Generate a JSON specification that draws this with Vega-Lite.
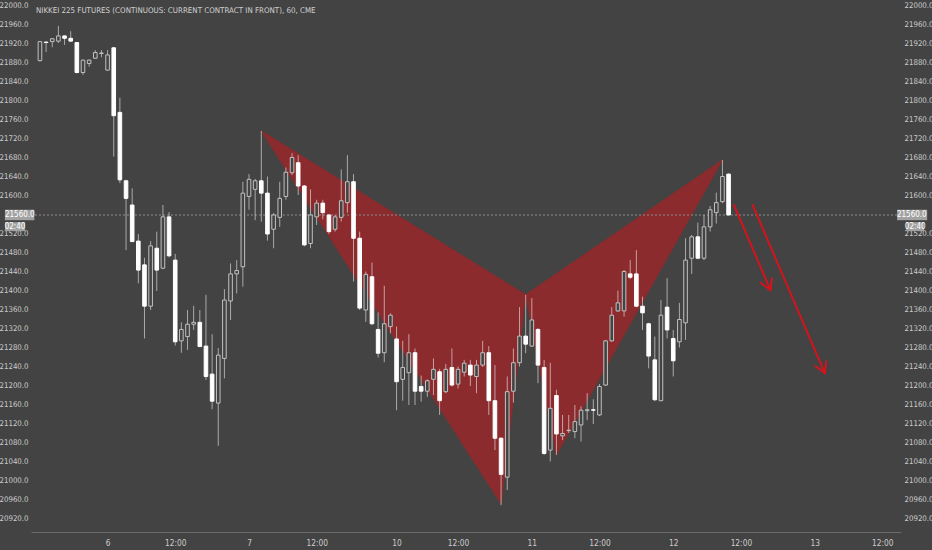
{
  "$schema": "https://vega.github.io/schema/vega-lite/v6.json",
  "background": "#434343",
  "autosize": "none",
  "width": 870,
  "height": 532,
  "padding": {"left": 31, "top": 0, "right": 31, "bottom": 18},
  "title": {
    "text": "NIKKEI 225 FUTURES (CONTINUOUS: CURRENT CONTRACT IN FRONT), 60, CME",
    "anchor": "start",
    "frame": "group",
    "offset": -15,
    "dx": 5,
    "fontSize": 7.9,
    "fontWeight": "normal",
    "font": "DejaVu Sans Condensed, sans-serif",
    "color": "#d2d2d2"
  },
  "datasets": {
    "candles": [
      {"i": 0, "o": 21885, "h": 21926, "l": 21883, "c": 21925},
      {"i": 1, "o": 21924, "h": 21925, "l": 21903, "c": 21923},
      {"i": 2, "o": 21925, "h": 21932, "l": 21913, "c": 21931},
      {"i": 3, "o": 21926, "h": 21958, "l": 21922, "c": 21937},
      {"i": 4, "o": 21937, "h": 21938, "l": 21918, "c": 21932},
      {"i": 5, "o": 21932, "h": 21947, "l": 21925, "c": 21926},
      {"i": 6, "o": 21923, "h": 21924, "l": 21858, "c": 21860},
      {"i": 7, "o": 21860, "h": 21887, "l": 21855, "c": 21886},
      {"i": 8, "o": 21879, "h": 21887, "l": 21872, "c": 21886},
      {"i": 9, "o": 21890, "h": 21907, "l": 21889, "c": 21902},
      {"i": 10, "o": 21900, "h": 21907, "l": 21892, "c": 21901},
      {"i": 11, "o": 21865, "h": 21907, "l": 21864, "c": 21897},
      {"i": 12, "o": 21912, "h": 21913, "l": 21683, "c": 21769},
      {"i": 13, "o": 21776, "h": 21807, "l": 21627, "c": 21634},
      {"i": 14, "o": 21632, "h": 21634, "l": 21486, "c": 21595},
      {"i": 15, "o": 21581, "h": 21616, "l": 21503, "c": 21504},
      {"i": 16, "o": 21505, "h": 21520, "l": 21416, "c": 21444},
      {"i": 17, "o": 21455, "h": 21470, "l": 21300, "c": 21368},
      {"i": 18, "o": 21368, "h": 21505, "l": 21360, "c": 21495},
      {"i": 19, "o": 21490, "h": 21525, "l": 21400, "c": 21444},
      {"i": 20, "o": 21448, "h": 21581, "l": 21446, "c": 21556},
      {"i": 21, "o": 21556, "h": 21566, "l": 21471, "c": 21474},
      {"i": 22, "o": 21465, "h": 21478, "l": 21285, "c": 21293},
      {"i": 23, "o": 21295, "h": 21334, "l": 21270, "c": 21319},
      {"i": 24, "o": 21304, "h": 21360, "l": 21276, "c": 21330},
      {"i": 25, "o": 21330, "h": 21369, "l": 21318, "c": 21334},
      {"i": 26, "o": 21334, "h": 21360, "l": 21282, "c": 21283},
      {"i": 27, "o": 21284, "h": 21392, "l": 21213, "c": 21220},
      {"i": 28, "o": 21225, "h": 21309, "l": 21151, "c": 21168},
      {"i": 29, "o": 21164, "h": 21280, "l": 21074, "c": 21265},
      {"i": 30, "o": 21258, "h": 21404, "l": 21216, "c": 21381},
      {"i": 31, "o": 21379, "h": 21458, "l": 21339, "c": 21436},
      {"i": 32, "o": 21436, "h": 21465, "l": 21395, "c": 21443},
      {"i": 33, "o": 21451, "h": 21630, "l": 21409, "c": 21606},
      {"i": 34, "o": 21599, "h": 21646, "l": 21571, "c": 21635},
      {"i": 35, "o": 21614, "h": 21636, "l": 21549, "c": 21632},
      {"i": 36, "o": 21632, "h": 21737, "l": 21546, "c": 21606},
      {"i": 37, "o": 21606, "h": 21641, "l": 21506, "c": 21520},
      {"i": 38, "o": 21530, "h": 21564, "l": 21490, "c": 21560},
      {"i": 39, "o": 21555, "h": 21630, "l": 21535, "c": 21595},
      {"i": 40, "o": 21599, "h": 21660, "l": 21592, "c": 21650},
      {"i": 41, "o": 21649, "h": 21690, "l": 21644, "c": 21681},
      {"i": 42, "o": 21670, "h": 21686, "l": 21602, "c": 21621},
      {"i": 43, "o": 21621, "h": 21623, "l": 21494, "c": 21497},
      {"i": 44, "o": 21500, "h": 21614, "l": 21490, "c": 21560},
      {"i": 45, "o": 21556, "h": 21592, "l": 21539, "c": 21585},
      {"i": 46, "o": 21585, "h": 21592, "l": 21551, "c": 21565},
      {"i": 47, "o": 21560, "h": 21562, "l": 21520, "c": 21525},
      {"i": 48, "o": 21530, "h": 21560, "l": 21525, "c": 21556},
      {"i": 49, "o": 21555, "h": 21656, "l": 21546, "c": 21590},
      {"i": 50, "o": 21586, "h": 21686, "l": 21565, "c": 21630},
      {"i": 51, "o": 21630, "h": 21646, "l": 21420, "c": 21511},
      {"i": 52, "o": 21511, "h": 21525, "l": 21360, "c": 21364},
      {"i": 53, "o": 21360, "h": 21441, "l": 21335, "c": 21435},
      {"i": 54, "o": 21430, "h": 21460, "l": 21328, "c": 21331},
      {"i": 55, "o": 21319, "h": 21355, "l": 21260, "c": 21269},
      {"i": 56, "o": 21270, "h": 21411, "l": 21250, "c": 21331},
      {"i": 57, "o": 21325, "h": 21353, "l": 21311, "c": 21349},
      {"i": 58, "o": 21299, "h": 21325, "l": 21149, "c": 21209},
      {"i": 59, "o": 21214, "h": 21295, "l": 21169, "c": 21239},
      {"i": 60, "o": 21228, "h": 21309, "l": 21160, "c": 21270},
      {"i": 61, "o": 21270, "h": 21279, "l": 21160, "c": 21189},
      {"i": 62, "o": 21199, "h": 21222, "l": 21167, "c": 21189},
      {"i": 63, "o": 21189, "h": 21214, "l": 21177, "c": 21211},
      {"i": 64, "o": 21214, "h": 21258, "l": 21181, "c": 21235},
      {"i": 65, "o": 21230, "h": 21236, "l": 21139, "c": 21169},
      {"i": 66, "o": 21188, "h": 21246, "l": 21185, "c": 21235},
      {"i": 67, "o": 21239, "h": 21279, "l": 21199, "c": 21202},
      {"i": 68, "o": 21204, "h": 21241, "l": 21195, "c": 21235},
      {"i": 69, "o": 21229, "h": 21255, "l": 21220, "c": 21248},
      {"i": 70, "o": 21244, "h": 21255, "l": 21200, "c": 21223},
      {"i": 71, "o": 21220, "h": 21255, "l": 21185, "c": 21244},
      {"i": 72, "o": 21244, "h": 21295, "l": 21240, "c": 21270},
      {"i": 73, "o": 21270, "h": 21284, "l": 21139, "c": 21169},
      {"i": 74, "o": 21169, "h": 21244, "l": 21065, "c": 21090},
      {"i": 75, "o": 21090, "h": 21092, "l": 20949, "c": 21014},
      {"i": 76, "o": 21008, "h": 21220, "l": 20981, "c": 21188},
      {"i": 77, "o": 21189, "h": 21279, "l": 21165, "c": 21249},
      {"i": 78, "o": 21249, "h": 21366, "l": 21241, "c": 21305},
      {"i": 79, "o": 21305, "h": 21392, "l": 21269, "c": 21288},
      {"i": 80, "o": 21284, "h": 21385, "l": 21282, "c": 21339},
      {"i": 81, "o": 21319, "h": 21322, "l": 21206, "c": 21244},
      {"i": 82, "o": 21239, "h": 21255, "l": 21055, "c": 21058},
      {"i": 83, "o": 21065, "h": 21249, "l": 21041, "c": 21153},
      {"i": 84, "o": 21180, "h": 21192, "l": 21055, "c": 21099},
      {"i": 85, "o": 21095, "h": 21139, "l": 21086, "c": 21100},
      {"i": 86, "o": 21106, "h": 21139, "l": 21101, "c": 21107},
      {"i": 87, "o": 21104, "h": 21160, "l": 21090, "c": 21125},
      {"i": 88, "o": 21118, "h": 21157, "l": 21083, "c": 21149},
      {"i": 89, "o": 21148, "h": 21185, "l": 21128, "c": 21150},
      {"i": 90, "o": 21150, "h": 21172, "l": 21120, "c": 21149},
      {"i": 91, "o": 21139, "h": 21204, "l": 21137, "c": 21199},
      {"i": 92, "o": 21202, "h": 21297, "l": 21200, "c": 21295},
      {"i": 93, "o": 21295, "h": 21366, "l": 21293, "c": 21349},
      {"i": 94, "o": 21358, "h": 21401, "l": 21356, "c": 21375},
      {"i": 95, "o": 21358, "h": 21444, "l": 21346, "c": 21441},
      {"i": 96, "o": 21436, "h": 21465, "l": 21425, "c": 21429},
      {"i": 97, "o": 21436, "h": 21486, "l": 21366, "c": 21368},
      {"i": 98, "o": 21368, "h": 21388, "l": 21318, "c": 21354},
      {"i": 99, "o": 21331, "h": 21333, "l": 21237, "c": 21263},
      {"i": 100, "o": 21255, "h": 21304, "l": 21168, "c": 21171},
      {"i": 101, "o": 21169, "h": 21381, "l": 21168, "c": 21349},
      {"i": 102, "o": 21366, "h": 21427, "l": 21300, "c": 21318},
      {"i": 103, "o": 21300, "h": 21318, "l": 21220, "c": 21253},
      {"i": 104, "o": 21293, "h": 21375, "l": 21281, "c": 21340},
      {"i": 105, "o": 21333, "h": 21511, "l": 21297, "c": 21465},
      {"i": 106, "o": 21469, "h": 21518, "l": 21436, "c": 21514},
      {"i": 107, "o": 21514, "h": 21544, "l": 21467, "c": 21469},
      {"i": 108, "o": 21469, "h": 21560, "l": 21465, "c": 21535},
      {"i": 109, "o": 21535, "h": 21579, "l": 21525, "c": 21571},
      {"i": 110, "o": 21565, "h": 21607, "l": 21542, "c": 21586},
      {"i": 111, "o": 21588, "h": 21676, "l": 21585, "c": 21641},
      {"i": 112, "o": 21646, "h": 21648, "l": 21560, "c": 21560}
    ],
    "pattern": [
      {"leg": "XAB", "ord": 0, "i": 36, "p": 21737},
      {"leg": "XAB", "ord": 1, "i": 75, "p": 20952},
      {"leg": "XAB", "ord": 2, "i": 79, "p": 21392},
      {"leg": "BCD", "ord": 0, "i": 79, "p": 21392},
      {"leg": "BCD", "ord": 1, "i": 84, "p": 21055},
      {"leg": "BCD", "ord": 2, "i": 111, "p": 21676}
    ],
    "arrows": [
      {"seg": "a1", "ord": 0, "i": 112.86, "p": 21581},
      {"seg": "a1", "ord": 1, "i": 118.81, "p": 21402},
      {"seg": "h1", "ord": 0, "i": 117.27, "p": 21417},
      {"seg": "h1", "ord": 1, "i": 118.81, "p": 21402},
      {"seg": "h1", "ord": 2, "i": 119.04, "p": 21427},
      {"seg": "a2", "ord": 0, "i": 115.92, "p": 21581},
      {"seg": "a2", "ord": 1, "i": 127.65, "p": 21227},
      {"seg": "h2", "ord": 0, "i": 126.11, "p": 21242},
      {"seg": "h2", "ord": 1, "i": 127.65, "p": 21227},
      {"seg": "h2", "ord": 2, "i": 127.88, "p": 21252}
    ]
  },
  "layer": [
    {
      "data": {"name": "pattern"},
      "mark": {"type": "line", "interpolate": "linear-closed", "fill": "#8b2b2e", "stroke": "#8b2b2e", "strokeWidth": 1},
      "encoding": {
        "x": {
          "field": "i", "type": "quantitative",
          "scale": {"domain": [-0.643, 139.23], "nice": false, "zero": false},
          "axis": {
            "orient": "bottom", "title": null, "domain": true, "domainColor": "#6a6a6a",
            "values": [11, 22, 34, 45, 58, 68, 80, 91, 103, 114, 126, 137],
            "labelExpr": "datum.value == 11 ? '6' : datum.value == 34 ? '7' : datum.value == 58 ? '10' : datum.value == 80 ? '11' : datum.value == 103 ? '12' : datum.value == 126 ? '13' : '12:00'",
            "labelPadding": 6,
            "labelFontSize": 8.3
          }
        },
        "y": {
          "field": "p", "type": "quantitative",
          "scale": {"domain": [20892.6, 22012.6], "nice": false, "zero": false},
          "axis": {
            "orient": "left", "title": null, "format": ".1f",
            "values": [20920, 20960, 21000, 21040, 21080, 21120, 21160, 21200, 21240, 21280, 21320, 21360, 21400, 21440, 21480, 21520, 21560, 21600, 21640, 21680, 21720, 21760, 21800, 21840, 21880, 21920, 21960, 22000],
            "labelExpr": "datum.value == 21560 ? '' : datum.label",
            "labelPadding": 3
          }
        },
        "detail": {"field": "leg"},
        "order": {"field": "ord"}
      }
    },
    {
      "data": {"values": [{"last": 21560}]},
      "mark": {"type": "rule", "color": "#8e8e8e", "strokeWidth": 1, "strokeDash": [2, 2]},
      "encoding": {
        "y": {
          "field": "last", "type": "quantitative",
          "axis": {
            "orient": "right", "title": null, "format": ".1f",
            "values": [20920, 20960, 21000, 21040, 21080, 21120, 21160, 21200, 21240, 21280, 21320, 21360, 21400, 21440, 21480, 21520, 21560, 21600, 21640, 21680, 21720, 21760, 21800, 21840, 21880, 21920, 21960, 22000],
            "labelExpr": "datum.value == 21560 ? '' : datum.label",
            "labelPadding": 3
          }
        }
      }
    },
    {
      "data": {"name": "candles"},
      "mark": {"type": "rule", "color": "#ffffff", "opacity": 0.55, "strokeWidth": 1},
      "encoding": {
        "x": {"field": "i", "type": "quantitative"},
        "y": {"field": "l", "type": "quantitative", "axis": null},
        "y2": {"field": "h"}
      }
    },
    {
      "data": {"name": "candles"},
      "mark": {"type": "bar", "size": 3.6, "strokeWidth": 1},
      "encoding": {
        "x": {"field": "i", "type": "quantitative"},
        "y": {"field": "o", "type": "quantitative", "axis": null},
        "y2": {"field": "c"},
        "fill": {"condition": {"test": "datum.c >= datum.o", "value": "#434343"}, "value": "#ffffff"},
        "stroke": {"condition": {"test": "datum.c >= datum.o", "value": "#c2c2c2"}, "value": "#ffffff"}
      }
    },
    {
      "data": {"name": "arrows"},
      "mark": {"type": "line", "color": "#d4141c", "strokeWidth": 2, "strokeCap": "round"},
      "encoding": {
        "x": {"field": "i", "type": "quantitative"},
        "y": {"field": "p", "type": "quantitative", "axis": null},
        "detail": {"field": "seg"},
        "order": {"field": "ord"}
      }
    },
    {
      "data": {"values": [{"t": "21560.0"}]},
      "layer": [
        {
          "mark": {"type": "rect", "color": "#a2a2a2"},
          "encoding": {
            "x": {"datum": 139.4, "type": "quantitative"}, "x2": {"datum": 144.3},
            "y": {"datum": 21549, "type": "quantitative", "axis": null}, "y2": {"datum": 21571}
          }
        },
        {
          "mark": {"type": "rect", "color": "#a2a2a2"},
          "encoding": {
            "x": {"datum": -5.7, "type": "quantitative"}, "x2": {"datum": -0.91},
            "y": {"datum": 21549, "type": "quantitative", "axis": null}, "y2": {"datum": 21571}
          }
        },
        {
          "mark": {"type": "text", "color": "#ffffff", "fontSize": 8, "font": "DejaVu Sans Condensed, sans-serif"},
          "encoding": {
            "x": {"datum": 141.8, "type": "quantitative"},
            "y": {"datum": 21560, "type": "quantitative", "axis": null},
            "text": {"field": "t"}
          }
        },
        {
          "mark": {"type": "text", "color": "#ffffff", "fontSize": 8, "font": "DejaVu Sans Condensed, sans-serif"},
          "encoding": {
            "x": {"datum": -3.28, "type": "quantitative"},
            "y": {"datum": 21560, "type": "quantitative", "axis": null},
            "text": {"field": "t"}
          }
        }
      ],
      "resolve": {"axis": {"y": "independent"}}
    },
    {
      "data": {"values": [{"t": "02:40"}]},
      "layer": [
        {
          "mark": {"type": "rect", "color": "#a2a2a2"},
          "encoding": {
            "x": {"datum": 140.9, "type": "quantitative"}, "x2": {"datum": 143.8},
            "y": {"datum": 21526, "type": "quantitative", "axis": null}, "y2": {"datum": 21545}
          }
        },
        {
          "mark": {"type": "rect", "color": "#a2a2a2"},
          "encoding": {
            "x": {"datum": -5.7, "type": "quantitative"}, "x2": {"datum": -2.41},
            "y": {"datum": 21526, "type": "quantitative", "axis": null}, "y2": {"datum": 21545}
          }
        },
        {
          "mark": {"type": "text", "color": "#ffffff", "fontSize": 8, "font": "DejaVu Sans Condensed, sans-serif"},
          "encoding": {
            "x": {"datum": 142.35, "type": "quantitative"},
            "y": {"datum": 21535.5, "type": "quantitative", "axis": null},
            "text": {"field": "t"}
          }
        },
        {
          "mark": {"type": "text", "color": "#ffffff", "fontSize": 8, "font": "DejaVu Sans Condensed, sans-serif"},
          "encoding": {
            "x": {"datum": -4.05, "type": "quantitative"},
            "y": {"datum": 21535.5, "type": "quantitative", "axis": null},
            "text": {"field": "t"}
          }
        }
      ],
      "resolve": {"axis": {"y": "independent"}}
    }
  ],
  "resolve": {"scale": {"y": "shared", "x": "shared"}, "axis": {"y": "independent"}},
  "config": {
    "view": {"stroke": null},
    "axis": {
      "grid": false,
      "ticks": false,
      "domain": false,
      "labelFont": "DejaVu Sans Condensed, sans-serif",
      "labelFontSize": 7.8,
      "labelColor": "#cccccc"
    }
  }
}
